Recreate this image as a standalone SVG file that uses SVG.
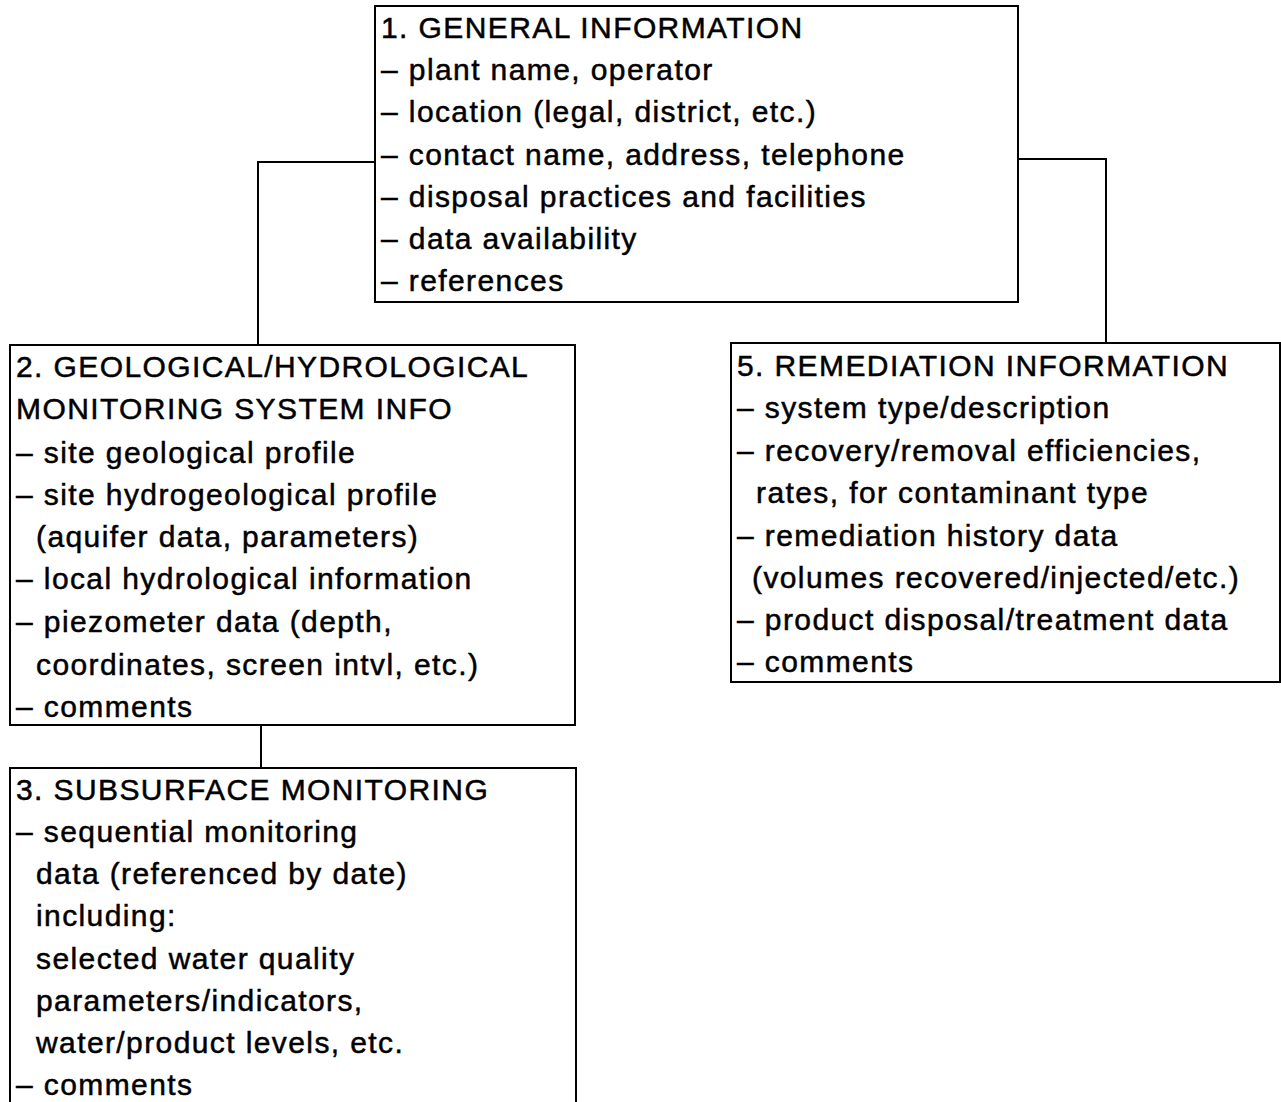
<svg xmlns="http://www.w3.org/2000/svg" width="1281" height="1102" viewBox="0 0 1281 1102">
<style>
.box{fill:#fff;stroke:#000;stroke-width:2}
.con{fill:none;stroke:#000;stroke-width:2}
text{font-family:"Liberation Sans",Arial,sans-serif;font-size:30px;fill:#000;stroke:#000;stroke-width:0.5;letter-spacing:1.4px}
</style>
<rect width="1281" height="1102" fill="#fff"/>
<g id="connectors">
<path class="con" d="M375 162 H258 V345"/>
<path class="con" d="M1018 159 H1106 V343"/>
<path class="con" d="M261 725 V768"/>
</g>
<g id="node1">
<rect class="box" x="375" y="6" width="643" height="296"/>
<text x="381" y="38">1. GENERAL INFORMATION</text>
<text x="381" y="80">– plant name, operator</text>
<text x="381" y="122">– location (legal, district, etc.)</text>
<text x="381" y="165">– contact name, address, telephone</text>
<text x="381" y="207">– disposal practices and facilities</text>
<text x="381" y="249">– data availability</text>
<text x="381" y="291">– references</text>
</g>
<g id="node2">
<rect class="box" x="10" y="345" width="565" height="380"/>
<text x="16" y="377">2. GEOLOGICAL/HYDROLOGICAL</text>
<text x="16" y="419">MONITORING SYSTEM INFO</text>
<text x="16" y="463">– site geological profile</text>
<text x="16" y="505">– site hydrogeological profile</text>
<text x="36" y="547">(aquifer data, parameters)</text>
<text x="16" y="589">– local hydrological information</text>
<text x="16" y="632">– piezometer data (depth,</text>
<text x="36" y="675">coordinates, screen intvl, etc.)</text>
<text x="16" y="717">– comments</text>
</g>
<g id="node3">
<rect class="box" x="10" y="768" width="566" height="345"/>
<text x="16" y="800">3. SUBSURFACE MONITORING</text>
<text x="16" y="842">– sequential monitoring</text>
<text x="36" y="884">data (referenced by date)</text>
<text x="36" y="926">including:</text>
<text x="36" y="969">selected water quality</text>
<text x="36" y="1011">parameters/indicators,</text>
<text x="36" y="1053">water/product levels, etc.</text>
<text x="16" y="1095">– comments</text>
</g>
<g id="node5">
<rect class="box" x="731" y="343" width="549" height="339"/>
<text x="737" y="376">5. REMEDIATION INFORMATION</text>
<text x="737" y="418">– system type/description</text>
<text x="737" y="461">– recovery/removal efficiencies,</text>
<text x="756" y="503">rates, for contaminant type</text>
<text x="737" y="546">– remediation history data</text>
<text x="752" y="588">(volumes recovered/injected/etc.)</text>
<text x="737" y="630">– product disposal/treatment data</text>
<text x="737" y="672">– comments</text>
</g>
</svg>
